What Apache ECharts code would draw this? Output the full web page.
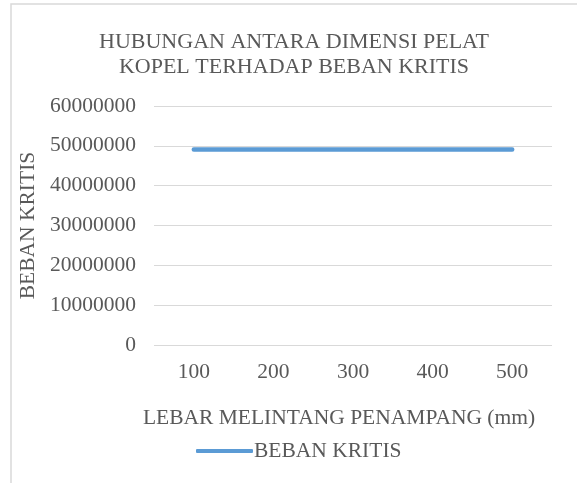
<!DOCTYPE html>
<html>
<head>
<meta charset="utf-8">
<script src="https://cdn.jsdelivr.net/npm/echarts@6/dist/echarts.min.js"></script>
<style>
html,body{margin:0;padding:0;background:#fff;}
#chart{width:577px;height:483px;}
</style>
</head>
<body>
<div id="chart"></div>
<script>
// data
var categories = ['100', '200', '300', '400', '500'];
var bebanKritis = [49070000, 49070000, 49070000, 49070000, 49070000];
var seriesName = 'BEBAN KRITIS';

var textColor = '#595959';
var fontFamily = '"Liberation Serif", "Times New Roman", serif';
var fs = 21.5;

var chart = echarts.init(document.getElementById('chart'));

var option = {
    backgroundColor: '#fff',
    animation: false,
    textStyle: {fontFamily: fontFamily, color: textColor},
    title: {
        text: 'HUBUNGAN ANTARA DIMENSI PELAT\nKOPEL TERHADAP BEBAN KRITIS',
        left: 289,
        top: 25,
        textAlign: 'center',
        textStyle: {
            fontFamily: fontFamily,
            fontSize: 22,
            fontWeight: 'normal',
            color: textColor,
            lineHeight: 25
        }
    },
    grid: {  //绘图区位置
        left: 154,
        right: 25,
        top: 106,
        bottom: 138
    },
    legend: {
        left: 191,
        top: 435,
        icon: 'roundRect',
        itemWidth: 57,
        itemHeight: 4,
        itemGap: 10,
        textStyle: {fontFamily: fontFamily, fontSize: fs, color: textColor, padding: [0, 0, 0, -4]},
        data: [seriesName]
    },
    xAxis: {
        type: 'category',
        data: categories,
        boundaryGap: true,
        name: 'LEBAR MELINTANG PENAMPANG (mm)',
        nameLocation: 'middle',
        nameGap: 62,
        nameTextStyle: {fontFamily: fontFamily, fontSize: fs, color: textColor, padding: [0, 28, 0, 0]},
        axisLine: {show: false},
        axisTick: {show: false},
        axisLabel: {fontFamily: fontFamily, fontSize: fs, color: textColor, margin: 16}
    },
    yAxis: {
        type: 'value',
        min: 0,
        max: 60000000,
        interval: 10000000,
        name: 'BEBAN KRITIS',
        nameLocation: 'middle',
        nameGap: 107,
        nameRotate: 90,
        nameTextStyle: {fontFamily: fontFamily, fontSize: fs, color: textColor},
        axisLine: {show: false},
        axisTick: {show: false},
        axisLabel: {
            fontFamily: fontFamily, fontSize: fs, color: textColor, margin: 18,
            formatter: function (v) { return String(v); }
        },
        splitLine: {lineStyle: {color: '#D9D9D9', width: 1}}
    },
    graphic: [{
        type: 'rect',
        silent: true,
        shape: {x: 11, y: 4, width: 700, height: 600},
        style: {fill: 'none', stroke: '#D9D9D9', lineWidth: 1.5}
    }],
    series: [{
        name: seriesName,
        type: 'line',
        data: bebanKritis,
        symbol: 'none',
        color: '#5B9BD5',
        lineStyle: {width: 4.5, color: '#5B9BD5', cap: 'round'}
    }]
};
chart.setOption(option);
</script>
</body>
</html>
